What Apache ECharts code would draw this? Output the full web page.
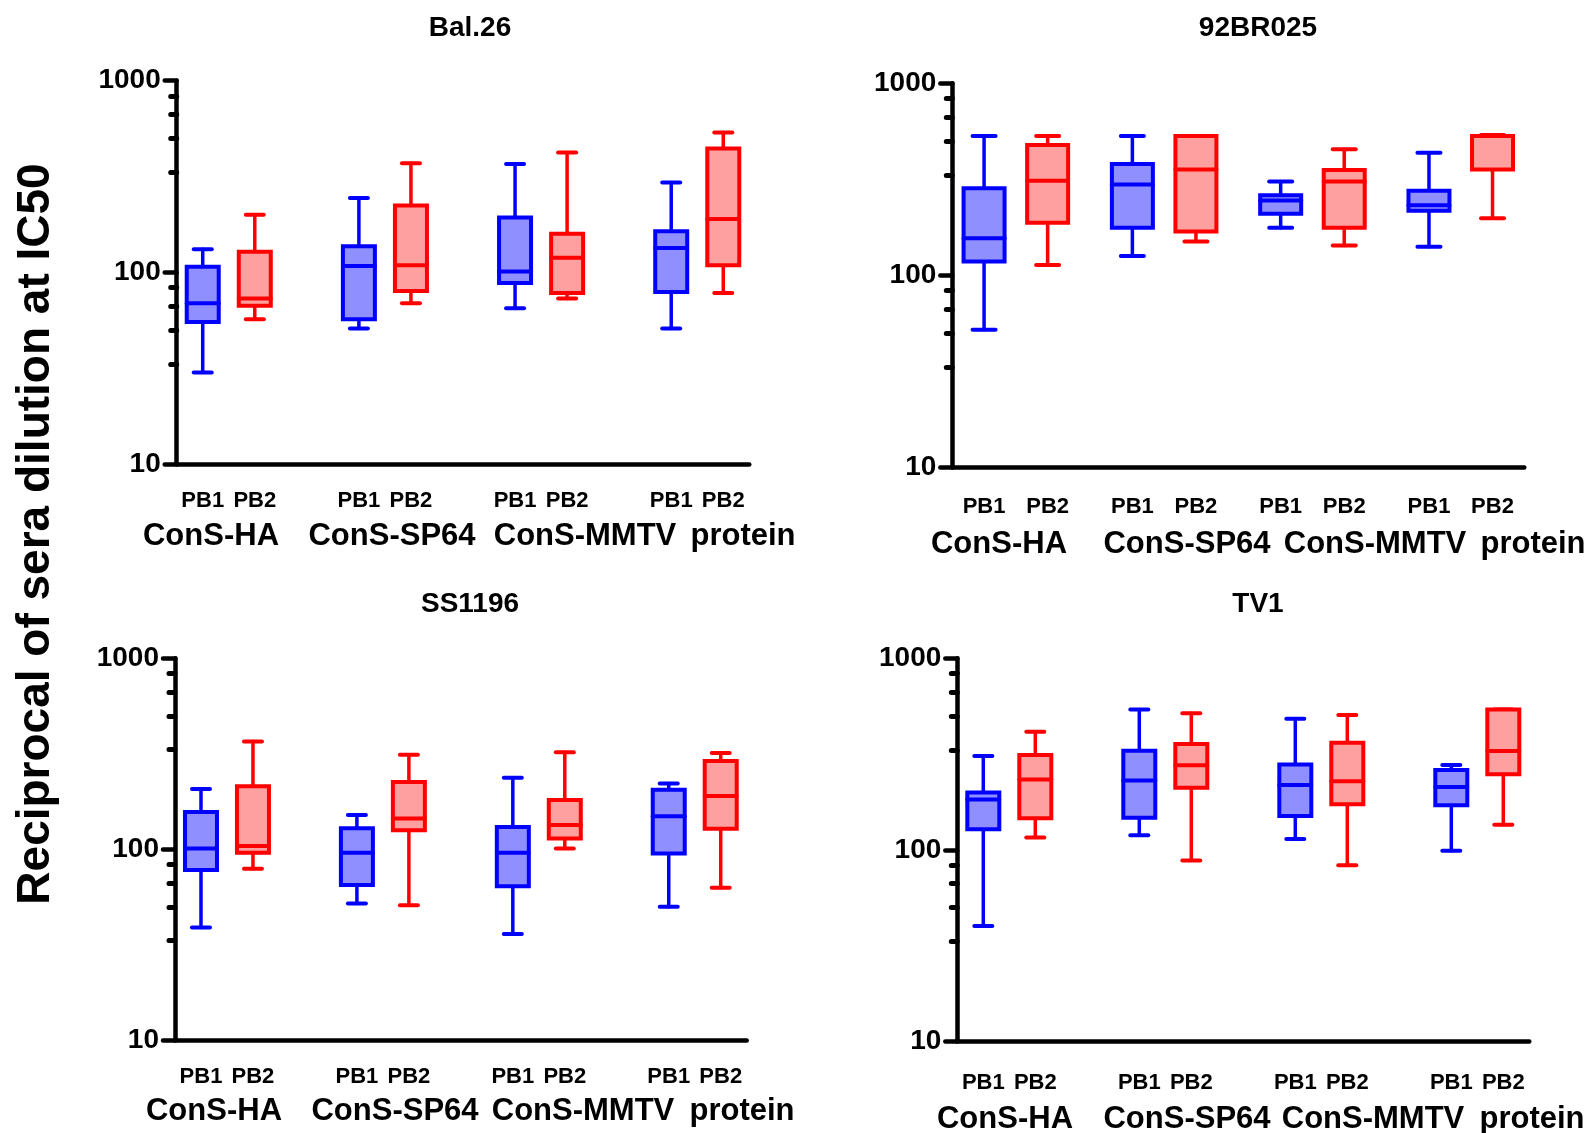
<!DOCTYPE html>
<html>
<head>
<meta charset="utf-8">
<script src="https://cdn.jsdelivr.net/npm/echarts@6/dist/echarts.min.js"></script>
<style>
  html, body { margin: 0; background: #fff; }
  #chart { width: 1591px; height: 1133px; }
</style>
</head>
<body>
<div id="chart"></div>
<script>
// titles, categories
const panelTitles = ['Bal.26', '92BR025', 'SS1196', 'TV1'];
const subjects = ['PB1', 'PB2'];
const groups = ['ConS-HA', 'ConS-SP64', 'ConS-MMTV', 'protein'];
const yAxisTitle = 'Reciprocal of sera dilution at IC50';
const minorTicks = [33.3, 50, 66.7, 83.3, 333, 500, 667, 833];

// box stats per group: [min, Q1, median, Q3, max]
const bal26PB1 = [[30, 55, 69, 107, 132], [51, 57, 108, 137, 244], [65, 88, 101, 193, 368], [51, 79, 134, 164, 294]];
const bal26PB2 = [[57, 67, 73, 128, 200], [69, 80, 109, 223, 371], [73, 78, 119, 159, 422], [78, 109, 190, 443, 536]];
const br025PB1 = [[52, 118, 156, 284, 532], [126, 177, 297, 380, 532], [177, 209, 245, 261, 308], [141, 217, 232, 276, 435]];
const br025PB2 = [[113, 188, 311, 477, 532], [150, 169, 356, 532, 532], [143, 177, 308, 354, 453], [198, 356, 532, 532, 538]];
const ss1196PB1 = [[39, 78, 101, 157, 207], [52, 65, 96, 129, 151], [36, 64, 96, 131, 237], [50, 95, 149, 205, 221]];
const ss1196PB2 = [[79, 96, 104, 214, 367], [51, 126, 145, 225, 313], [101, 114, 134, 181, 322], [63, 128, 190, 290, 319]];
const tv1PB1 = [[40, 128, 183, 199, 309], [119, 147, 230, 329, 541], [114, 150, 218, 279, 484], [99, 171, 213, 261, 277]];
const tv1PB2 = [[116, 146, 233, 313, 414], [88, 211, 276, 357, 516], [83, 173, 228, 362, 506], [135, 248, 328, 541, 541]];

const panelData = [[bal26PB1, bal26PB2], [br025PB1, br025PB2], [ss1196PB1, ss1196PB2], [tv1PB1, tv1PB2]];

// layout of the four panels
const slots11 = [0, 1, 3, 4, 6, 7, 9, 10];
const panels = [
  { left: 176.7, top: 80.7, width: 572.6, height: 383.3, n: 11, slots: slots11, boxW: 32, capW: 18, lblMargin: 26,
    title: [470, 28], groupX: [211, 392, 585, 743], groupY: 552 },
  { left: 952.3, top: 83.3, width: 572, height: 384, n: 27, slots: [1, 4, 8, 11, 15, 18, 22, 25], boxW: 41, capW: 23, lblMargin: 29,
    title: [1258, 28], groupX: [999, 1187, 1375, 1533], groupY: 560 },
  { left: 175, top: 658.3, width: 571.7, height: 382, n: 11, slots: slots11, boxW: 32, capW: 18, lblMargin: 26,
    title: [470, 604], groupX: [214, 395, 583, 742], groupY: 1127 },
  { left: 957.3, top: 658.3, width: 572, height: 383, n: 11, slots: slots11, boxW: 32, capW: 18, lblMargin: 31,
    title: [1258, 604], groupX: [1005, 1187, 1373, 1532], groupY: 1135 }
];

const colors = [
  { stroke: '#0000ff', fill: '#8f8fff' },
  { stroke: '#ff0000', fill: '#ffa0a0' }
];
const FONT = '"Liberation Sans", Arial, Helvetica, sans-serif';

function boxRenderer(boxW, capW, c) {
  return function (params, api) {
    const x = api.value(0);
    const pMin = api.coord([x, api.value(1)]);
    const pQ1 = api.coord([x, api.value(2)]);
    const pMed = api.coord([x, api.value(3)]);
    const pQ3 = api.coord([x, api.value(4)]);
    const pMax = api.coord([x, api.value(5)]);
    const cx = pMin[0];
    const line = (x1, y1, x2, y2, w) => ({
      type: 'line', shape: { x1, y1, x2, y2 },
      style: { stroke: c.stroke, lineWidth: w, lineCap: 'round' }
    });
    return {
      type: 'group',
      children: [
        line(cx, pMin[1], cx, pQ1[1], 3.5),
        line(cx, pQ3[1], cx, pMax[1], 3.5),
        line(cx - capW / 2, pMin[1], cx + capW / 2, pMin[1], 4),
        line(cx - capW / 2, pMax[1], cx + capW / 2, pMax[1], 4),
        { type: 'rect', shape: { x: cx - boxW / 2, y: pQ3[1], width: boxW, height: pQ1[1] - pQ3[1] },
          style: { fill: c.fill, stroke: c.stroke, lineWidth: 4 } },
        line(cx - boxW / 2, pMed[1], cx + boxW / 2, pMed[1], 4)
      ]
    };
  };
}

const grid = [], xAxis = [], yAxis = [], series = [], graphic = [];

panels.forEach((p, pi) => {
  grid.push({ left: p.left, top: p.top, width: p.width, height: p.height, outerBoundsMode: 'none' });

  const names = new Array(p.n).fill('');
  p.slots.forEach((s, i) => { names[s] = subjects[i % 2]; });

  xAxis.push({
    type: 'category', gridIndex: pi, data: names,
    axisLine: { lineStyle: { color: '#000', width: 4.5, cap: 'round' } },
    axisTick: { alignWithLabel: true, length: 12, interval: (i, v) => v !== '',
      lineStyle: { color: '#000', width: 4.5, cap: 'round' } },
    axisLabel: { interval: 0, margin: p.lblMargin, color: '#000', fontFamily: FONT, fontWeight: 'bold', fontSize: 22 },
    splitLine: { show: false }
  });

  yAxis.push({
    type: 'log', logBase: 10, gridIndex: pi, min: 10, max: 1000,
    axisLine: { show: true, lineStyle: { color: '#000', width: 4.5, cap: 'round' } },
    axisTick: { show: true, length: 12, lineStyle: { color: '#000', width: 4.5, cap: 'round' } },
    axisLabel: { margin: 16, color: '#000', fontFamily: FONT, fontWeight: 'bold', fontSize: 28,
      formatter: v => String(Math.round(v)) },
    splitLine: { show: false }
  });
  // minor ticks (exponent scale, same extent)
  yAxis.push({
    type: 'value', gridIndex: pi, min: 1, max: 3, position: 'left',
    axisLine: { show: false },
    axisTick: { show: true, length: 6, customValues: minorTicks.map(Math.log10),
      lineStyle: { color: '#000', width: 5, cap: 'round' } },
    axisLabel: { show: false },
    splitLine: { show: false }
  });

  subjects.forEach((s, si) => {
    series.push({
      type: 'custom', name: s, xAxisIndex: pi, yAxisIndex: pi * 2,
      encode: { x: 0, y: [1, 2, 3, 4, 5] },
      data: panelData[pi][si].map((st, gi) => [p.slots[gi * 2 + si]].concat(st)),
      renderItem: boxRenderer(p.boxW, p.capW, colors[si]),
      silent: true
    });
  });

  graphic.push({
    type: 'text', x: p.title[0], y: p.title[1],
    style: { text: panelTitles[pi], fill: '#000', font: 'bold 28px ' + FONT, textAlign: 'center', textVerticalAlign: 'middle' }
  });
  groups.forEach((g, gi) => {
    graphic.push({
      type: 'text', x: p.groupX[gi], y: p.groupY,
      style: { text: g, fill: '#000', font: 'bold 31px ' + FONT, textAlign: 'center', textVerticalAlign: 'bottom' }
    });
  });
});

graphic.push({
  type: 'text', x: 36, y: 534, rotation: Math.PI / 2,
  style: { text: yAxisTitle, fill: '#000', font: 'bold 46px ' + FONT, textAlign: 'center', textVerticalAlign: 'middle' }
});

const chart = echarts.init(document.getElementById('chart'));
chart.setOption({
  backgroundColor: '#fff',
  animation: false,
  grid, xAxis, yAxis, series, graphic
});
</script>
</body>
</html>
